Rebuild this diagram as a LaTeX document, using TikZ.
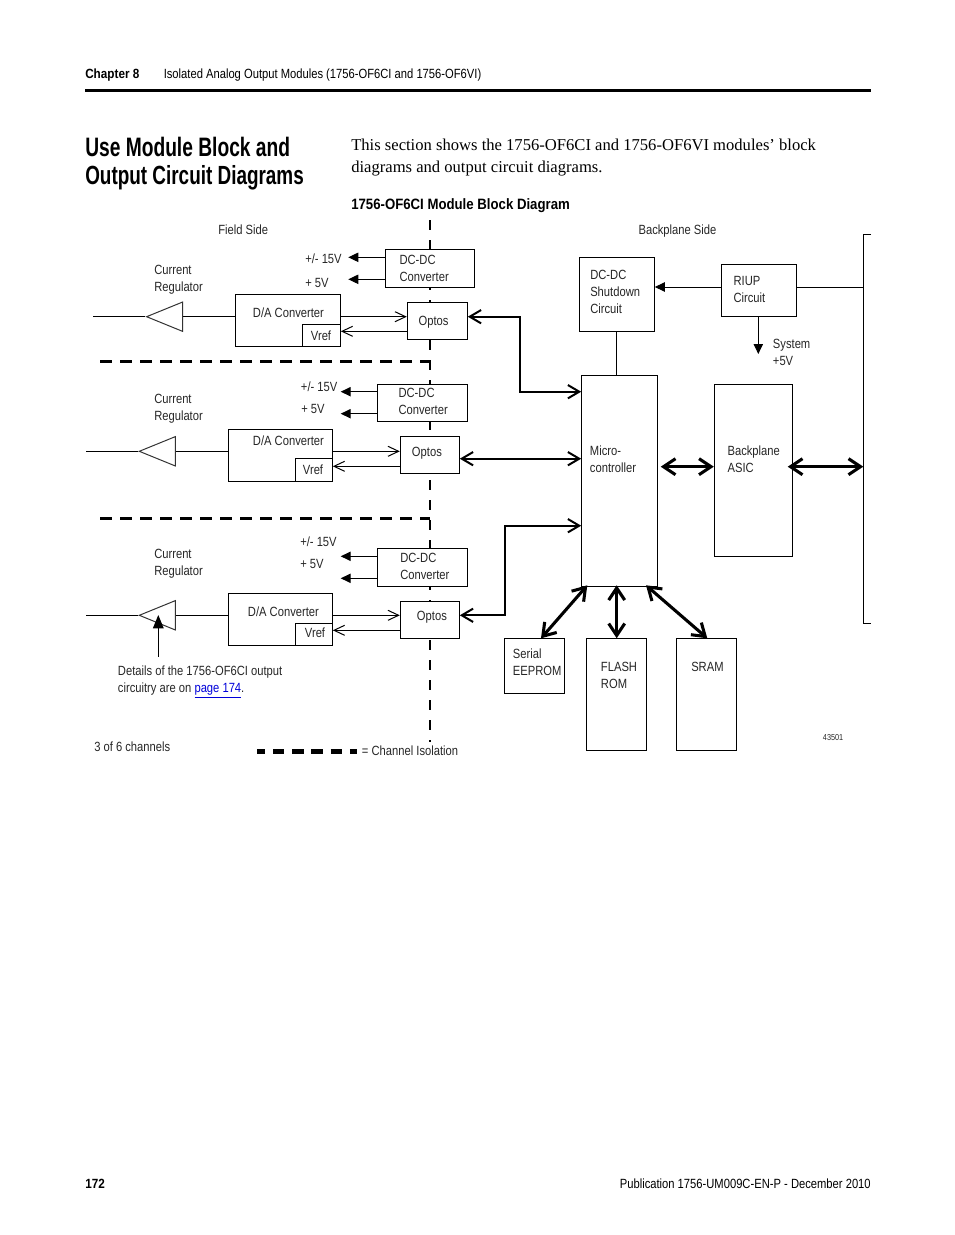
\documentclass[tikz,border=0pt]{standalone}
\usepackage{fontspec}
\setmainfont{Liberation Serif}
\newfontfamily\cond[FakeStretch=0.84]{Liberation Sans}
\newfontfamily\condb[FakeStretch=0.72]{Liberation Sans}
\newfontfamily\condh[FakeStretch=0.88]{Liberation Sans}
\usetikzlibrary{arrows.meta,shapes.geometric}
\newcommand{\bx}[5]{\node[blockbox,minimum width={(#4-#2)*0.75pt},minimum height={(#5-#3)*0.75pt}] (#1) at ({(#2+#4)/2},{(#3+#5)/2}) {};}
\newcommand{\lbl}[4]{\node[difftext] (#1) at (#2,{#3-13.333}) {\rule{0pt}{10pt}#4};}
\tikzset{
  x=0.75pt,y=-0.75pt,
  blockbox/.style={draw=black,fill=white,line width=0.75pt,inner sep=0pt,rectangle},
  difftext/.style={anchor=north west,inner sep=0pt,align=left,text=black!85,font=\cond\fontsize{10}{12.75}\selectfont},
  tiny text/.style={anchor=base west,inner sep=0pt,font=\cond\fontsize{6.5}{7}\selectfont,text=black!85},
  pagehead/.style={anchor=base west,inner sep=0pt,font=\cond\fontsize{10}{12}\selectfont},
  pageheadb/.style={anchor=base west,inner sep=0pt,font=\condh\bfseries\fontsize{10}{12}\selectfont},
  wire/.style={line width=0.75pt,draw=black},
  opn/.style={wire,-{Straight Barb[length=8pt,width=7.5pt]}},
  fil/.style={wire,-{Triangle[length=7.5pt,width=7pt]}},
  heavy/.style={line width=1.5pt,{Straight Barb[length=8.5pt,width=10pt]}-{Straight Barb[length=8.5pt,width=10pt]}},
  heavyb/.style={line width=2.3pt,{Straight Barb[length=9pt,width=12pt]}-{Straight Barb[length=9pt,width=12pt]}},
  isolv/.style={line width=1.5pt,dash pattern=on 7.5pt off 7.5pt},
  isolh/.style={line width=2pt,dash pattern=on 9pt off 6pt},
  amp/.style={isosceles triangle,draw=black!80,fill=white,line width=0.75pt,inner sep=0pt,shape border rotate=180,isosceles triangle stretches,minimum width=22pt,minimum height=27pt},
}
\begin{document}
\begin{tikzpicture}
\useasboundingbox (0,0) rectangle (954,1235);
% page furniture
\node[pageheadb] (chap) at (85,78) {Chapter 8};
\node[pagehead] (sect) at (163.5,78) {Isolated Analog Output Modules (1756-OF6CI and 1756-OF6VI)};
\coordinate (ruleL) at (85,90.5);
\coordinate (ruleR) at (871,90.5);
\draw[line width=2.2pt] (ruleL) -- (ruleR);
\node[anchor=base west,inner sep=0pt,font=\condb\bfseries\fontsize{20}{21}\selectfont] (title1) at (85,156.5) {Use Module Block and};
\node[anchor=base west,inner sep=0pt,font=\condb\bfseries\fontsize{19.7}{21}\selectfont] (title2) at (85,184.5) {Output Circuit Diagrams};
\node[anchor=base west,inner sep=0pt,font=\fontsize{12.45}{16}\selectfont] (body1) at (351,150) {This section shows the 1756-OF6CI and 1756-OF6VI modules’ block};
\node[anchor=base west,inner sep=0pt,font=\fontsize{12.45}{16}\selectfont] (body2) at (351,172) {diagrams and output circuit diagrams.};
\node[anchor=base west,inner sep=0pt,font=\condh\bfseries\fontsize{11.25}{13}\selectfont] (fig) at (351,209) {1756-OF6CI Module Block Diagram};
\node[pageheadb] (pnum) at (85,1188) {172};
\node[pagehead,anchor=base east] (pub) at (871,1188) {Publication 1756-UM009C-EN-P - December 2010};

% isolation lines
\coordinate (isoTop) at (430,220);
\coordinate (isoBot) at (430,742);
\coordinate (h1L) at (100,361.7);
\coordinate (h1R) at (430,361.7);
\coordinate (h2L) at (100,518.3);
\coordinate (h2R) at (430,518.3);
\coordinate (legL) at (257,751.3);
\coordinate (legR) at (357.3,751.3);
\draw[isolv] (isoTop) -- (isoBot);
\draw[isolh] (h1L) -- (h1R);
\draw[isolh] (h2L) -- (h2R);
\draw[line width=3.5pt,dash pattern=on 8.5pt off 5.9pt,dash phase=2.4pt] (legL) -- (legR);

% level helpers
\coordinate (a1) at (0,316.7); \coordinate (b1) at (0,331.3);
\coordinate (c1) at (0,257.3); \coordinate (d1) at (0,279.3);
\coordinate (a2) at (0,451.3); \coordinate (b2) at (0,466.3);
\coordinate (c2) at (0,391.7); \coordinate (d2) at (0,413.7);
\coordinate (a3) at (0,615.3); \coordinate (b3) at (0,630.3);
\coordinate (c3) at (0,556.3); \coordinate (d3) at (0,578.3);
\coordinate (p1) at (348.3,0); \coordinate (p2) at (340.7,0);

% channel 1
\bx{dc1}{385.7}{249.3}{474.7}{287.3}
\bx{op1}{407.3}{302.3}{467.3}{339.3}
\bx{da1}{235.3}{294.3}{340.3}{346.3}
\bx{vr1}{302.3}{324.7}{340.3}{346.3}
\node[amp,anchor=apex] (am1) at (145.3,316.7) {};
\coordinate (out1) at (93.3,316.7);
\draw[wire] (out1) -- (am1.apex);
\draw[wire] (am1.lower side) -- (da1.west |- am1.lower side);
\draw[opn] (da1.east |- a1) -- (op1.west |- a1);
\draw[opn] (op1.west |- b1) -- (vr1.east |- b1);
\draw[fil] (dc1.west |- c1) -- (p1 |- c1);
\draw[fil] (dc1.west |- d1) -- (p1 |- d1);

% channel 2
\bx{dc2}{377.3}{384.3}{467.3}{421.3}
\bx{op2}{400.3}{436.3}{459.3}{473.7}
\bx{da2}{228.3}{429.3}{332.3}{481.3}
\bx{vr2}{295.3}{458.3}{332.3}{481.3}
\node[amp,anchor=apex] (am2) at (138,451.3) {};
\coordinate (out2) at (86,451.3);
\draw[wire] (out2) -- (am2.apex);
\draw[wire] (am2.lower side) -- (da2.west |- am2.lower side);
\draw[opn] (da2.east |- a2) -- (op2.west |- a2);
\draw[opn] (op2.west |- b2) -- (vr2.east |- b2);
\draw[fil] (dc2.west |- c2) -- (p2 |- c2);
\draw[fil] (dc2.west |- d2) -- (p2 |- d2);

% channel 3
\bx{dc3}{377.3}{548.3}{467.3}{586.3}
\bx{op3}{400.3}{601.3}{459.3}{638.3}
\bx{da3}{228.3}{593.3}{332.3}{645.3}
\bx{vr3}{295.3}{623.3}{332.3}{645.3}
\node[amp,anchor=apex] (am3) at (138,615.3) {};
\coordinate (out3) at (86,615.3);
\draw[wire] (out3) -- (am3.apex);
\draw[wire] (am3.lower side) -- (da3.west |- am3.lower side);
\draw[opn] (da3.east |- a3) -- (op3.west |- a3);
\draw[opn] (op3.west |- b3) -- (vr3.east |- b3);
\draw[fil] (dc3.west |- c3) -- (p2 |- c3);
\draw[fil] (dc3.west |- d3) -- (p2 |- d3);
\coordinate (detTail) at (158.3,656.7);
\coordinate (detTip) at (158.3,615);
\draw[wire,-{Triangle[length=10pt,width=8pt]}] (detTail) -- (detTip);

% backplane side
\bx{sd}{579.3}{257.3}{654.3}{331}
\bx{ri}{721.3}{264.3}{796.3}{316.3}
\bx{mc}{581.7}{375.3}{657.3}{586.3}
\bx{as}{714.3}{384}{792.7}{556.3}
\bx{se}{504.3}{638.3}{564.3}{693.3}
\bx{fl}{586.3}{638.3}{646.3}{750}
\bx{sr}{676.3}{638.3}{736.3}{750}
\coordinate (busT) at (863.3,234.7);
\coordinate (busB) at (863.3,623.3);
\coordinate (busTe) at (871,234.7);
\coordinate (busBe) at (871,623.3);
\draw[wire] (busTe) -- (busT) -- (busB) -- (busBe);
\coordinate (riY) at (0,287);
\draw[fil] (ri.west |- riY) -- (sd.east |- riY);
\draw[wire] (ri.east |- riY) -- (busT |- riY);
\coordinate (sysTip) at (758.3,354);
\draw[fil] (sysTip |- ri.south) -- (sysTip);
\coordinate (sdX) at (616.7,0);
\draw[wire] (sdX |- sd.south) -- (sdX |- mc.north);
\coordinate (j1) at (520,316.7); \coordinate (m1) at (0,391.7);
\coordinate (j3) at (505,615.3); \coordinate (m3) at (0,525.7);
\coordinate (m2) at (0,458.7);
\coordinate (mid) at (0,466.7);
\coordinate (mcR) at (660.7,466.7);
\coordinate (asR) at (787.7,466.7);
\coordinate (mcA) at (587.3,585.3);
\coordinate (mcB) at (616.7,585.3);
\coordinate (mcC) at (646,585.3);
\coordinate (seT) at (541,638.3);
\coordinate (flT) at (616.7,638.3);
\coordinate (srT) at (707.3,638.3);
\draw[heavy] (op1.east |- a1) -- (j1) -- (j1 |- m1) -- (mc.west |- m1);
\draw[heavy] (op2.east |- m2) -- (mc.west |- m2);
\draw[heavy] (op3.east |- j3) -- (j3) -- (j3 |- m3) -- (mc.west |- m3);
\draw[heavyb] (mcR) -- (as.west |- mid);
\draw[heavyb] (asR) -- (busT |- mid);
\draw[heavyb] (mcA) -- (seT);
\draw[heavyb] (mcB) -- (flT);
\draw[heavyb] (mcC) -- (srT);

% labels
\lbl{fs}{218}{234}{Field Side}
\lbl{bs}{638.3}{234}{Backplane Side}
\lbl{cr1}{154}{274}{Current\\Regulator}
\lbl{cr2}{154}{403}{Current\\Regulator}
\lbl{cr3}{154}{558.7}{Current\\Regulator}
\lbl{v1}{305}{263.3}{+/- 15V}
\lbl{f1}{305}{287.3}{+ 5V}
\lbl{v2}{300.7}{391}{+/- 15V}
\lbl{f2}{301}{413.7}{+ 5V}
\lbl{v3}{300}{546}{+/- 15V}
\lbl{f3}{300}{568}{+ 5V}
\lbl{tdc1}{399.3}{264}{DC-DC\\Converter}
\lbl{tdc2}{398.3}{397.7}{DC-DC\\Converter}
\lbl{tdc3}{400}{562}{DC-DC\\Converter}
\lbl{tda1}{252.7}{317}{D/A Converter}
\lbl{tda2}{252.7}{445.3}{D/A Converter}
\lbl{tda3}{247.7}{616}{D/A Converter}
\lbl{tvr1}{310.7}{340}{Vref}
\lbl{tvr2}{302.7}{474}{Vref}
\lbl{tvr3}{304.7}{637.7}{Vref}
\lbl{top1}{418.3}{325}{Optos}
\lbl{top2}{411.7}{456}{Optos}
\lbl{top3}{416.7}{620.3}{Optos}
\lbl{det}{117.7}{675.7}{Details of the 1756-OF6CI output\\circuitry are on \textcolor{blue!85!black}{\underline{page 174}}.}
\lbl{chn}{94}{751.7}{3 of 6 channels}
\lbl{leg}{361.7}{755}{= Channel Isolation}
\lbl{tsd}{590}{279}{DC-DC\\Shutdown\\Circuit}
\lbl{tri}{733.3}{285}{RIUP\\Circuit}
\lbl{sys}{772.7}{348.3}{System\\+5V}
\lbl{tmc}{589.7}{455}{Micro-\\controller}
\lbl{tas}{727.3}{455}{Backplane\\ASIC}
\lbl{tse}{512.7}{658}{Serial\\EEPROM}
\lbl{tfl}{600.7}{671}{FLASH\\ROM}
\lbl{tsr}{691}{671}{SRAM}
\node[tiny text] (fign) at (822.7,740) {43501};
\end{tikzpicture}
\end{document}
